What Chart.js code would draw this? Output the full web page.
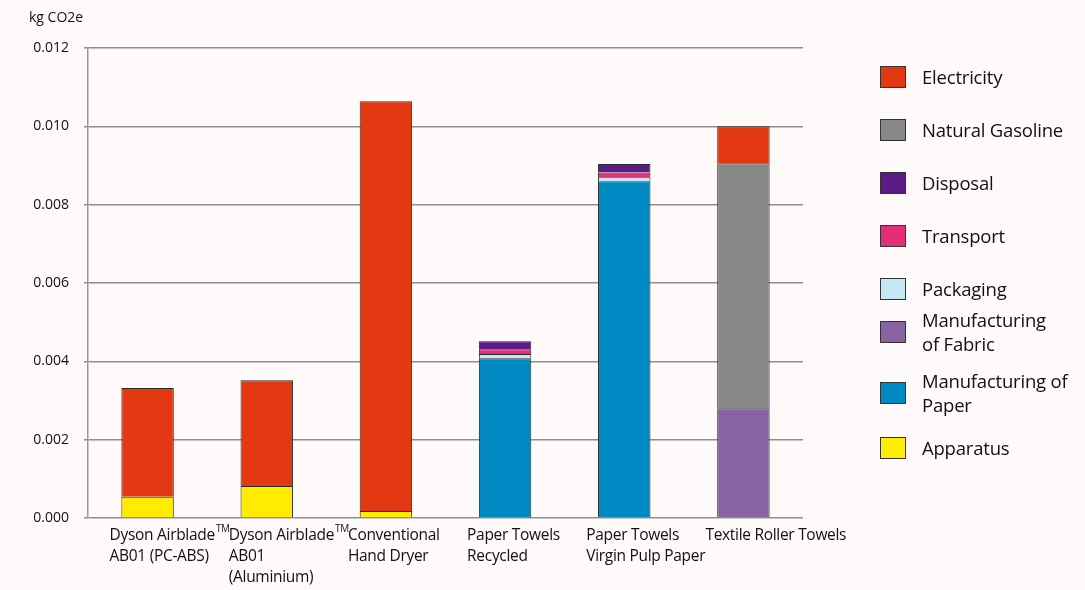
<!DOCTYPE html>
<html>
<head>
<meta charset="utf-8">
<script src="https://cdn.jsdelivr.net/npm/chart.js@4/dist/chart.umd.min.js"></script>
<style>
  html, body { margin: 0; padding: 0; background: #fdfaf9; }
  #wrap { position: relative; width: 1085px; height: 590px; }
  #legend { position: absolute; left: 880px; top: 0; font-family: "Open Sans", sans-serif; font-size: 18.5px; color: #111; }
  .item { position: absolute; left: 0; width: 210px; display: flex; align-items: center; }
  .box { width: 26px; height: 22px; border: 1.5px solid #333; box-sizing: border-box; margin-right: 16px; flex: none; }
  .txt { line-height: 24px; white-space: nowrap; letter-spacing: -0.2px; }
</style>
</head>
<body>
<div id="wrap">
  <canvas id="chart" width="1085" height="590"></canvas>
  <div id="legend"></div>
</div>
<script>
// categories (each label split into lines)
const categories = [
    ['Dyson Airblade\u2122', 'AB01 (PC-ABS)'],
    ['Dyson Airblade\u2122', 'AB01', '(Aluminium)'],
    ['Conventional', 'Hand Dryer'],
    ['Paper Towels', 'Recycled'],
    ['Paper Towels', 'Virgin Pulp Paper'],
    ['Textile Roller Towels']
];

// series values, kg CO2e (stacked bottom to top)
const apparatus     = [0.00054, 0.00082, 0.00018, 0, 0, 0];
const mfgPaper      = [0, 0, 0, 0.00408, 0.00860, 0];
const mfgFabric     = [0, 0, 0, 0, 0, 0.00280];
const packaging     = [0, 0, 0, 0.00011, 0.00010, 0];
const transport     = [0, 0, 0, 0.00012, 0.00012, 0];
const disposal      = [0, 0, 0, 0.00020, 0.00022, 0];
const naturalGas    = [0, 0, 0, 0, 0, 0.00626];
const electricity   = [0.00278, 0.00270, 0.01046, 0, 0, 0.00094];

const yTicks = [0, 0.002, 0.004, 0.006, 0.008, 0.010, 0.012];

const series = [
    { label: 'Apparatus', data: apparatus, color: '#ffec00' },
    { label: 'Manufacturing of Paper', data: mfgPaper, color: '#0088c2' },
    { label: 'Manufacturing of Fabric', data: mfgFabric, color: '#8862a3' },
    { label: 'Packaging', data: packaging, color: '#c8e7f6' },
    { label: 'Transport', data: transport, color: '#e52d78' },
    { label: 'Disposal', data: disposal, color: '#5a1b86' },
    { label: 'Natural Gasoline', data: naturalGas, color: '#878787' },
    { label: 'Electricity', data: electricity, color: '#e33812' }
];

// legend entries top to bottom, with line breaks as in the picture
const legendItems = [
    { text: 'Electricity', color: '#e33812', y: 77 },
    { text: 'Natural Gasoline', color: '#878787', y: 130 },
    { text: 'Disposal', color: '#5a1b86', y: 183 },
    { text: 'Transport', color: '#e52d78', y: 236 },
    { text: 'Packaging', color: '#c8e7f6', y: 289 },
    { text: 'Manufacturing<br>of Fabric', color: '#8862a3', y: 332 },
    { text: 'Manufacturing of<br>Paper', color: '#0088c2', y: 393 },
    { text: 'Apparatus', color: '#ffec00', y: 448 }
];

const legend = document.getElementById('legend');
legendItems.forEach(it => {
    const row = document.createElement('div');
    row.className = 'item';
    row.innerHTML = `<div class="box" style="background:${it.color}"></div><div class="txt">${it.text}</div>`;
    legend.appendChild(row);
    row.style.top = (it.y - row.offsetHeight / 2) + 'px';
});

const labelFont = '15.5px "Open Sans", sans-serif';
const supFont = '10px "Open Sans", sans-serif';

// draws the multi-line category labels (with a raised TM) and the unit label
const textPlugin = {
    id: 'texts',
    afterDraw(chart) {
        const ctx = chart.ctx;
        const x = chart.scales.x;
        ctx.save();
        ctx.fillStyle = '#111';
        ctx.textAlign = 'left';
        ctx.textBaseline = 'middle';
        ctx.letterSpacing = '-0.3px';
        categories.forEach((lines, i) => {
            const px = x.getPixelForValue(i) - 38;
            lines.forEach((l, j) => {
                const y = 536 + j * 21;
                const parts = l.split('\u2122');
                ctx.font = labelFont;
                ctx.fillText(parts[0], px, y);
                if (parts.length > 1) {
                    const w = ctx.measureText(parts[0]).width;
                    ctx.font = supFont;
                    ctx.fillText('TM', px + w + 1, y - 7);
                }
            });
        });
        ctx.letterSpacing = '0px';
        ctx.font = '14px "Open Sans", sans-serif';
        ctx.fillText('kg CO2e', 29, 18);
        ctx.restore();
    }
};

new Chart(document.getElementById('chart'), {
    type: 'bar',
    data: {
        labels: categories.map(c => c.join(' ')),
        datasets: series.map(s => ({
            label: s.label,
            data: s.data,
            backgroundColor: s.color,
            borderColor: '#2a2a2a',
            borderWidth: 1,
            barPercentage: 0.44,
            categoryPercentage: 1
        }))
    },
    options: {
        responsive: false,
        animation: false,
        layout: { padding: { left: 0, right: 282, top: 48, bottom: 64 } },
        plugins: { legend: { display: false }, tooltip: { enabled: false } },
        scales: {
            x: {
                stacked: true,
                ticks: { display: false },
                grid: { display: false },
                border: { display: false }
            },
            y: {
                stacked: true,
                min: 0,
                max: 0.012,
                afterBuildTicks: axis => { axis.ticks = yTicks.map(v => ({ value: v })); },
                afterFit: axis => { axis.width = 88; },
                ticks: {
                    color: '#111',
                    padding: 15,
                    font: { family: '"Open Sans", sans-serif', size: 14 },
                    callback: v => v.toFixed(3)
                },
                grid: { color: '#8f8f8f', lineWidth: 1.5, tickLength: 4 },
                border: { color: '#9a9a9a', width: 1.5 }
            }
        }
    },
    plugins: [textPlugin]
});
</script>
</body>
</html>
